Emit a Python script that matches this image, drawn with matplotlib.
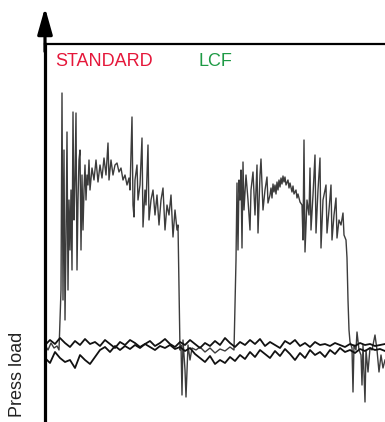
import matplotlib
matplotlib.use('Agg')
import matplotlib.pyplot as plt
import numpy as np

plt.rcParams['font.family'] = ['Liberation Sans', 'DejaVu Sans']

# STANDARD press trace (time, load), arbitrary units
std_time = [0, 3, 6, 9, 12, 14, 16, 17, 18, 19, 20, 21, 22, 23, 24, 25, 26, 27, 28, 29,
            30, 31, 32, 33, 34, 35, 36, 37, 38, 39, 40, 41, 42, 43, 44, 45, 47, 49, 51, 53,
            55, 57, 59, 61, 63, 64, 66, 68, 70, 72, 74, 76, 78, 80, 82, 84, 85, 87, 88, 89,
            90, 92, 93, 95, 97, 98, 100, 101, 103, 104, 106, 108, 110, 112, 114, 116, 118, 120, 122, 124,
            126, 128, 130, 132, 133, 134, 135, 136, 137, 138, 140, 141, 143, 145, 147, 151, 155, 160, 165, 170,
            175, 180, 185, 189, 191, 192, 193, 194, 195, 196, 197, 198, 199, 201, 203, 205, 206, 208, 210, 212,
            213, 215, 216, 218, 220, 222, 223, 225, 226, 227, 228, 229, 230, 231, 232, 233, 234, 235, 236, 237,
            238, 239, 240, 241, 243, 244, 245, 247, 248, 249, 251, 252, 253, 255, 257, 258, 259, 260, 262, 264,
            265, 266, 268, 270, 271, 273, 275, 276, 278, 281, 282, 284, 286, 287, 289, 291, 292, 294, 296, 298,
            299, 301, 302, 303, 304, 305, 307, 308, 309, 311, 312, 314, 316, 317, 318, 320, 321, 323, 325, 327,
            330, 332, 334, 336, 338, 340]
std_load = [75, 70, 77, 72, 74, 70, 130, 327, 120, 270, 100, 180, 288, 130, 220, 170, 230, 150, 308, 200,
            240, 307, 150, 220, 260, 270, 170, 245, 190, 230, 255, 220, 245, 235, 260, 230, 252, 240, 260, 238,
            255, 242, 262, 245, 277, 240, 260, 245, 255, 257, 248, 252, 240, 245, 235, 242, 230, 303, 215, 203,
            240, 255, 220, 235, 282, 193, 230, 215, 275, 200, 220, 230, 205, 225, 195, 220, 232, 190, 215, 205,
            225, 183, 210, 190, 195, 130, 70, 75, 25, 80, 50, 23, 75, 60, 72, 70, 73, 68, 72, 67,
            71, 69, 73, 70, 160, 237, 170, 240, 220, 250, 172, 258, 210, 245, 220, 190, 230, 248, 205, 255,
            187, 245, 261, 210, 230, 243, 217, 225, 232, 222, 236, 228, 235, 226, 238, 230, 240, 233, 242, 236,
            244, 238, 243, 235, 240, 232, 237, 228, 234, 226, 230, 222, 226, 218, 215, 180, 280, 168, 220, 205,
            252, 190, 225, 265, 187, 230, 262, 172, 220, 235, 187, 210, 235, 180, 205, 222, 182, 200, 195, 207,
            185, 180, 162, 120, 90, 78, 72, 28, 75, 70, 88, 70, 65, 35, 75, 18, 70, 48, 72, 70,
            85, 70, 48, 65, 52, 60]

# LCF traces, sampled every 5 time units
lcf_time = np.arange(0, 345, 5)
lcf_upper = [75, 80, 76, 82, 77, 73, 79, 75, 81, 76, 78, 74, 80, 76, 72, 78, 75, 80, 77, 73,
             76, 79, 74, 77, 81, 76, 73, 78, 75, 80, 76, 72, 77, 74, 79, 75, 82, 77, 73, 78,
             75, 80, 76, 81, 74, 78, 75, 72, 79, 76, 80, 74, 77, 73, 78, 75, 76, 74, 77, 75,
             73, 76, 74, 77, 75, 76, 74, 75, 76]
lcf_lower = [62, 57, 68, 62, 58, 60, 52, 65, 60, 56, 63, 70, 73, 68, 74, 70, 74, 71, 75, 72,
             76, 73, 70, 74, 72, 75, 71, 73, 69, 72, 66, 62, 58, 64, 56, 60, 57, 63, 59, 65,
             61, 68, 63, 70, 66, 62, 69, 64, 71, 66, 60, 67, 62, 70, 65, 68, 63, 70, 66, 72,
             68, 70, 67, 71, 69, 72, 70, 71, 69]

fig = plt.figure(figsize=(3.85, 4.22), dpi=100)
ax = fig.add_axes([45 / 385, 2 / 422, 340 / 385, 376 / 422])

ax.plot(std_time, std_load, color='#1a1a1a', lw=1.0, alpha=0.85)
ax.plot(lcf_time, lcf_upper, color='#111111', lw=1.3)
ax.plot(lcf_time, lcf_lower, color='#111111', lw=1.3)

ax.set_xlim(0, 340)
ax.set_ylim(0, 376)
ax.set_xticks([])
ax.set_yticks([])
ax.spines['right'].set_visible(False)
ax.spines['bottom'].set_visible(False)
ax.spines['left'].set_linewidth(2.3)
ax.spines['top'].set_linewidth(1.6)

# arrow on top of the y axis
ax.annotate('', xy=(0, 1.097), xytext=(0, 0.98), xycoords='axes fraction',
            arrowprops=dict(arrowstyle='-|>,head_length=1.6,head_width=0.45',
                            lw=2.3, color='black', shrinkA=0, shrinkB=0),
            annotation_clip=False)

fig.text(55 / 385, 1 - 62 / 422, 'STANDARD', color='#e5173a', fontsize=13, va='center')
fig.text(199 / 385, 1 - 62 / 422, 'LCF', color='#1e9a45', fontsize=13, va='center')
fig.text(17 / 385, 1 - 374 / 422, 'Press load', color='#222222', fontsize=13,
         rotation=90, ha='center', va='center')

fig.savefig('out.png', dpi=100)
